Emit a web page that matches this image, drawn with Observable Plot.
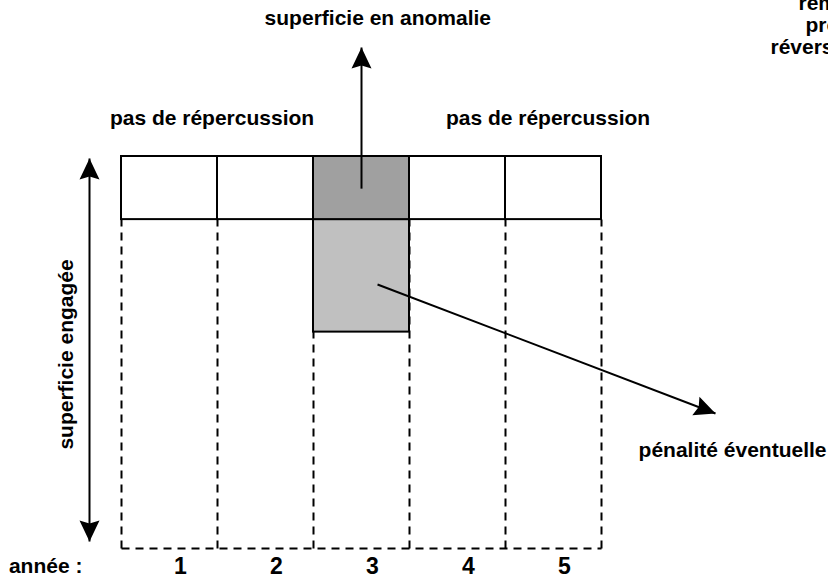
<!DOCTYPE html>
<html>
<head>
<meta charset="utf-8">
<script src="https://cdn.jsdelivr.net/npm/d3@7"></script>
<script src="https://cdn.jsdelivr.net/npm/@observablehq/plot@0.6"></script>
<style>
  body { margin: 0; background: #fff; }
  #chart svg { display: block; }
</style>
</head>
<body>
<div id="chart"></div>
<script>
// ---- data ----
const years = [1, 2, 3, 4, 5];
const yearLabels = ["1", "2", "3", "4", "5"];
const anomalyYear = 3;
const engaged = [0, 100];        // superficie engagée (bas, haut)
const anomaly = [83.9, 100];     // superficie en anomalie
const penalty = [55.2, 83.9];    // pénalité éventuelle

const labelTexts = ["superficie en anomalie", "pas de répercussion", "pas de répercussion", "pénalité éventuelle", "année :"];
const labelX = [3.17, 1.443, 4.943, 6.865, -0.29];
const labelY = [135.2, 109.7, 109.7, 25, -4.6];

const cutTexts = ["remise", "production", "réversible"];
const cutX = [7.552, 7.625, 7.26];
const cutY = [139.0, 133.4, 127.8];

const axisLabel = "superficie engagée";

// ---- derived tables ----
const topCells = years.map(yr => ({x1: yr - 0.5, x2: yr + 0.5, y1: anomaly[0], y2: anomaly[1], fill: yr === anomalyYear ? "#a0a0a0" : "#ffffff"}));
const penaltyCell = [{x1: anomalyYear - 0.5, x2: anomalyYear + 0.5, y1: penalty[0], y2: penalty[1]}];
const boundaries = [0.5, ...years.map(y => y + 0.5)];
const dashedV = boundaries.map(b => ({x1: b, x2: b, y1: engaged[0], y2: anomaly[0]}));
const dashedH = [{x1: boundaries[0], x2: boundaries[boundaries.length - 1], y1: engaged[0], y2: engaged[0]}];
const labels = labelTexts.map((t, i) => ({t, x: labelX[i], y: labelY[i]}));
const cuts = cutTexts.map((t, i) => ({t, x: cutX[i], y: cutY[i]}));
const yearText = years.map((y, i) => ({t: yearLabels[i], x: y, y: -4.6}));

const singleArrows = [
  {x1: anomalyYear, y1: 91.8, x2: anomalyYear, y2: 127.8},
  {x1: 3.167, y1: 67.35, x2: 6.6875, y2: 34.44}
];
const doubleArrow = [{x1: 0.1667, y1: 1.8, x2: 0.1667, y2: 99.5}];

const font = "Liberation Sans, Arial, Helvetica, sans-serif";

const plot = Plot.plot({
  width: 828,
  height: 578,
  marginLeft: 121,
  marginRight: 227,
  marginTop: 156,
  marginBottom: 30,
  x: {domain: [0.5, 5.5], axis: null},
  y: {domain: [0, 100], axis: null},
  style: {fontFamily: font, background: "#fff"},
  marks: [
    Plot.link(dashedV, {x1: "x1", x2: "x2", y1: "y1", y2: "y2", stroke: "#000", strokeWidth: 2, strokeDasharray: "8,6"}),
    Plot.link(dashedH, {x1: "x1", x2: "x2", y1: "y1", y2: "y2", stroke: "#000", strokeWidth: 2, strokeDasharray: "8,6"}),
    Plot.rect(penaltyCell, {x1: "x1", x2: "x2", y1: "y1", y2: "y2", fill: "#c0c0c0", stroke: "#000", strokeWidth: 2}),
    Plot.rect(topCells, {x1: "x1", x2: "x2", y1: "y1", y2: "y2", fill: "fill", stroke: "#000", strokeWidth: 2}),
    Plot.link(singleArrows, {x1: "x1", x2: "x2", y1: "y1", y2: "y2", stroke: "#000", strokeWidth: 2, className: "arrow-single"}),
    Plot.link(doubleArrow, {x1: "x1", x2: "x2", y1: "y1", y2: "y2", stroke: "#000", strokeWidth: 2, className: "arrow-double"}),
    Plot.text(labels, {x: "x", y: "y", text: "t", fontSize: 21, fontWeight: "bold", fill: "#000", fontFamily: font}),
    Plot.text(cuts, {x: "x", y: "y", text: "t", fontSize: 21, fontWeight: "bold", fill: "#000", textAnchor: "start", fontFamily: font}),
    Plot.text(yearText, {x: "x", y: "y", text: "t", dx: 11, fontSize: 23, fontWeight: "bold", fill: "#000", fontFamily: font}),
    Plot.text([axisLabel], {x: -0.073, y: 49.5, text: d => d, rotate: -90, fontSize: 21, fontWeight: "bold", fill: "#000", fontFamily: font})
  ]
});

// filled arrowheads
const svg = d3.select(plot);
const defs = svg.insert("defs", ":first-child");
defs.append("marker")
  .attr("id", "head")
  .attr("viewBox", "-22 -11 23 22")
  .attr("markerWidth", 23)
  .attr("markerHeight", 22)
  .attr("refX", 0).attr("refY", 0)
  .attr("markerUnits", "userSpaceOnUse")
  .attr("orient", "auto-start-reverse")
  .append("path")
  .attr("d", "M0,0L-21,-10L-18,0L-21,10Z")
  .attr("fill", "#000");
svg.selectAll(".arrow-single path, path.arrow-single, .arrow-single line").attr("marker-end", "url(#head)");
svg.selectAll(".arrow-double path, path.arrow-double, .arrow-double line").attr("marker-end", "url(#head)").attr("marker-start", "url(#head)");

document.getElementById("chart").appendChild(plot);
</script>
</body>
</html>
